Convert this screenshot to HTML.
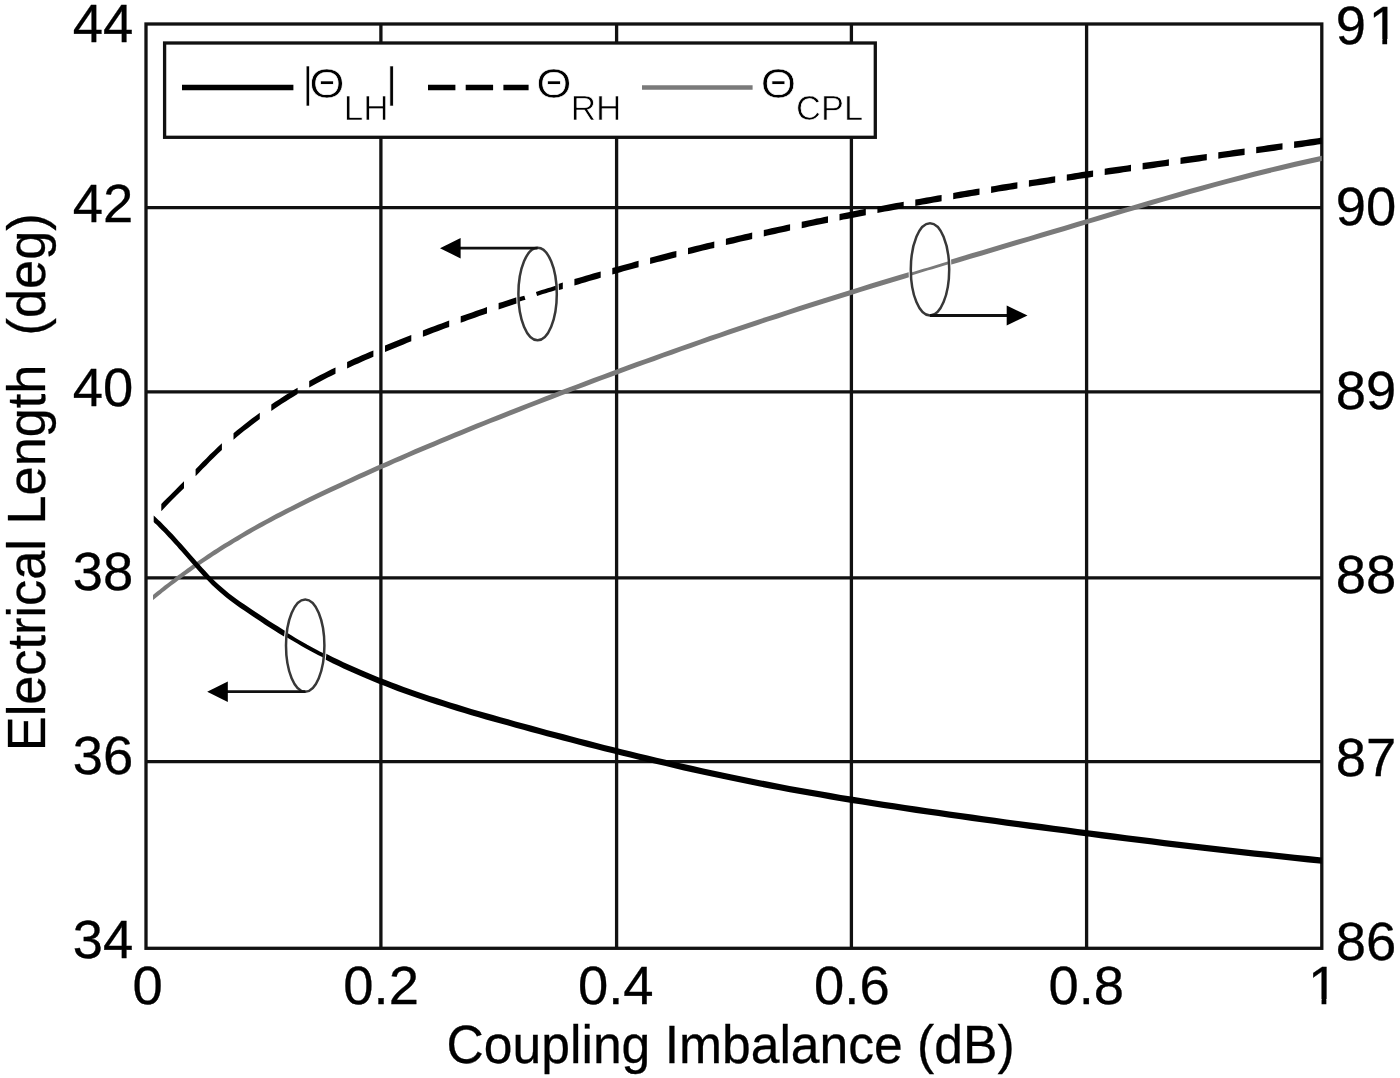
<!DOCTYPE html>
<html><head><meta charset="utf-8"><title>Electrical Length vs Coupling Imbalance</title>
<style>html,body{margin:0;padding:0;background:#fff}svg{display:block}</style></head>
<body><svg width="1400" height="1078" viewBox="0 0 1400 1078">
<rect x="0" y="0" width="1400" height="1078" fill="#fff"/>
<path d="M380.9,24.0V948.3M616.6,24.0V948.3M851.4,24.0V948.3M1086.6,24.0V948.3M146.0,207.6H1321.8M146.0,391.8H1321.8M146.0,577.8H1321.8M146.0,761.6H1321.8" stroke="#111" stroke-width="3.3" fill="none"/>
<rect x="146.0" y="24.0" width="1175.8" height="924.3" stroke="#111" stroke-width="3.3" fill="none"/>
<path d="M153.0,594.9 L154.1,594.0 L155.3,593.1 L156.5,592.1 L157.8,591.0 L159.3,589.9 L160.7,588.7 L162.3,587.4 L164.0,586.1 L165.7,584.8 L167.5,583.4 L169.4,581.9 L171.3,580.4 L173.4,578.9 L175.5,577.3 L177.7,575.6 L180.0,573.9 L182.3,572.2 L184.8,570.4 L187.3,568.6 L189.9,566.7 L192.6,564.8 L195.3,562.9 L198.2,560.9 L201.1,558.9 L204.1,556.9 L207.2,554.8 L210.3,552.8 L213.5,550.6 L216.9,548.5 L220.2,546.3 L223.7,544.1 L227.3,541.9 L230.9,539.7 L234.6,537.4 L238.4,535.2 L242.2,532.9 L246.2,530.6 L250.2,528.3 L254.3,525.9 L258.5,523.6 L262.8,521.3 L267.1,518.9 L271.5,516.5 L276.0,514.1 L280.6,511.7 L285.3,509.3 L290.0,506.9 L294.8,504.5 L299.7,502.1 L304.7,499.6 L309.7,497.1 L314.9,494.6 L320.1,492.1 L325.4,489.6 L330.7,487.1 L336.2,484.5 L341.7,482.0 L347.3,479.4 L353.0,476.8 L358.8,474.1 L364.6,471.5 L370.6,468.8 L376.6,466.1 L382.6,463.4 L388.8,460.7 L395.0,457.9 L401.4,455.2 L407.8,452.4 L414.2,449.6 L420.8,446.8 L427.4,444.0 L434.2,441.2 L441.0,438.3 L447.8,435.5 L454.8,432.6 L461.8,429.7 L468.9,426.8 L476.1,423.8 L483.4,420.9 L490.7,417.9 L498.2,415.0 L505.7,412.0 L513.3,409.0 L520.9,406.0 L528.7,402.9 L536.5,399.9 L544.4,396.8 L552.4,393.7 L560.5,390.6 L568.6,387.5 L576.8,384.4 L585.1,381.2 L593.5,378.1 L602.0,374.9 L610.5,371.7 L619.1,368.5 L627.8,365.3 L636.6,362.1 L645.5,358.9 L654.4,355.7 L663.4,352.4 L672.5,349.2 L681.7,345.9 L690.9,342.7 L700.3,339.4 L709.7,336.1 L719.2,332.9 L728.7,329.6 L738.4,326.3 L748.1,323.0 L757.9,319.7 L767.8,316.4 L777.8,313.2 L787.8,309.9 L797.9,306.6 L808.1,303.3 L818.4,300.0 L828.8,296.7 L839.2,293.5 L849.7,290.2 L860.3,286.9 L871.0,283.6 L881.8,280.3 L892.6,277.0 L903.5,273.7 L914.5,270.4 L925.6,267.0 L936.8,263.7 L948.0,260.4 L959.3,257.0 L970.7,253.6 L982.2,250.2 L993.7,246.8 L1005.3,243.3 L1017.0,239.8 L1028.8,236.4 L1040.7,232.8 L1052.6,229.3 L1064.7,225.7 L1076.8,222.0 L1089.0,218.4 L1101.2,214.7 L1113.6,211.1 L1126.0,207.4 L1138.5,203.7 L1151.1,200.0 L1163.7,196.4 L1176.5,192.7 L1189.3,189.1 L1202.2,185.5 L1215.1,181.9 L1228.2,178.4 L1241.3,175.0 L1254.5,171.6 L1267.8,168.2 L1281.2,165.0 L1294.7,161.8 L1308.2,158.7 L1321.8,155.7 L1321.8,160.9 L1308.2,163.9 L1294.7,167.0 L1281.2,170.2 L1267.8,173.4 L1254.5,176.8 L1241.3,180.2 L1228.2,183.6 L1215.1,187.1 L1202.2,190.7 L1189.3,194.3 L1176.5,197.9 L1163.7,201.6 L1151.1,205.2 L1138.5,208.9 L1126.0,212.6 L1113.6,216.3 L1101.2,219.9 L1089.0,223.6 L1076.8,227.2 L1064.7,230.9 L1052.6,234.5 L1040.7,238.0 L1028.8,241.6 L1017.0,245.0 L1005.3,248.5 L993.7,252.0 L982.2,255.4 L970.7,258.8 L959.3,262.2 L948.0,265.6 L936.8,268.9 L925.6,272.2 L914.5,275.6 L903.5,278.9 L892.6,282.2 L881.8,285.5 L871.0,288.8 L860.3,292.1 L849.7,295.4 L839.2,298.7 L828.8,301.9 L818.4,305.2 L808.1,308.5 L797.9,311.8 L787.8,315.1 L777.8,318.4 L767.8,321.6 L757.9,324.9 L748.1,328.2 L738.4,331.5 L728.7,334.8 L719.2,338.1 L709.7,341.3 L700.3,344.6 L690.9,347.9 L681.7,351.1 L672.5,354.4 L663.4,357.6 L654.4,360.9 L645.5,364.1 L636.6,367.3 L627.8,370.5 L619.1,373.7 L610.5,376.9 L602.0,380.1 L593.5,383.3 L585.1,386.4 L576.8,389.6 L568.6,392.7 L560.5,395.8 L552.4,398.9 L544.4,402.0 L536.5,405.1 L528.7,408.1 L520.9,411.2 L513.3,414.2 L505.7,417.2 L498.2,420.2 L490.7,423.1 L483.4,426.1 L476.1,429.0 L468.9,432.0 L461.8,434.9 L454.8,437.8 L447.8,440.7 L441.0,443.5 L434.2,446.4 L427.4,449.2 L420.8,452.0 L414.2,454.8 L407.8,457.6 L401.4,460.4 L395.0,463.1 L388.8,465.9 L382.6,468.6 L376.6,471.3 L370.6,474.0 L364.6,476.7 L358.8,479.3 L353.0,482.0 L347.3,484.6 L341.7,487.2 L336.2,489.7 L330.7,492.3 L325.4,494.8 L320.1,497.3 L314.9,499.8 L309.7,502.3 L304.7,504.8 L299.7,507.3 L294.8,509.7 L290.0,512.1 L285.3,514.5 L280.6,516.9 L276.0,519.3 L271.5,521.7 L267.1,524.1 L262.8,526.5 L258.5,528.8 L254.3,531.1 L250.2,533.5 L246.2,535.8 L242.2,538.1 L238.4,540.4 L234.6,542.6 L230.9,544.9 L227.3,547.1 L223.7,549.3 L220.2,551.5 L216.9,553.7 L213.5,555.8 L210.3,558.0 L207.2,560.0 L204.1,562.1 L201.1,564.1 L198.2,566.1 L195.3,568.1 L192.6,570.0 L189.9,571.9 L187.3,573.8 L184.8,575.6 L182.3,577.4 L180.0,579.1 L177.7,580.8 L175.5,582.5 L173.4,584.1 L171.3,585.6 L169.4,587.1 L167.5,588.6 L165.7,590.0 L164.0,591.3 L162.3,592.6 L160.7,593.9 L159.3,595.1 L157.8,596.2 L156.5,597.3 L155.3,598.3 L154.1,599.2 L153.0,600.1Z" fill="#7a7a7a"/>
<path d="M153.7,515.6 L154.8,516.6 L156.1,517.7 L157.4,518.9 L158.7,520.2 L160.2,521.6 L161.7,523.1 L163.3,524.7 L165.0,526.4 L166.8,528.2 L168.6,530.2 L170.6,532.2 L172.6,534.3 L174.6,536.6 L176.8,539.0 L179.0,541.4 L181.4,544.0 L183.8,546.7 L186.2,549.6 L188.8,552.5 L191.4,555.5 L194.1,558.6 L196.9,561.8 L199.8,565.0 L202.7,568.3 L205.8,571.6 L208.9,574.9 L212.0,578.2 L215.3,581.4 L218.6,584.6 L222.1,587.6 L225.6,590.6 L229.1,593.4 L232.8,596.2 L236.5,598.9 L240.3,601.7 L244.2,604.3 L248.2,607.0 L252.2,609.8 L256.4,612.5 L260.6,615.3 L264.8,618.1 L269.2,620.9 L273.6,623.7 L278.2,626.6 L282.8,629.4 L287.4,632.3 L292.2,635.1 L297.0,638.0 L301.9,640.8 L306.9,643.6 L312.0,646.3 L317.1,649.1 L322.4,651.8 L327.7,654.5 L333.0,657.2 L338.5,659.8 L344.0,662.4 L349.7,665.0 L355.4,667.5 L361.1,670.0 L367.0,672.5 L372.9,675.0 L378.9,677.4 L385.0,679.8 L391.2,682.2 L397.4,684.6 L403.8,686.9 L410.2,689.2 L416.6,691.5 L423.2,693.7 L429.8,695.9 L436.6,698.1 L443.4,700.3 L450.2,702.5 L457.2,704.6 L464.2,706.7 L471.3,708.9 L478.5,711.0 L485.8,713.1 L493.1,715.1 L500.6,717.2 L508.1,719.3 L515.6,721.4 L523.3,723.5 L531.0,725.6 L538.9,727.7 L546.8,729.9 L554.7,732.0 L562.8,734.1 L570.9,736.3 L579.1,738.4 L587.4,740.6 L595.8,742.7 L604.2,744.9 L612.8,747.0 L621.4,749.2 L630.0,751.3 L638.8,753.5 L647.6,755.6 L656.6,757.7 L665.6,759.8 L674.6,762.0 L683.8,764.1 L693.0,766.1 L702.3,768.2 L711.7,770.3 L721.2,772.3 L730.7,774.3 L740.4,776.3 L750.1,778.3 L759.8,780.2 L769.7,782.1 L779.6,784.0 L789.7,785.9 L799.8,787.7 L809.9,789.5 L820.2,791.3 L830.5,793.1 L840.9,794.9 L851.4,796.6 L862.0,798.3 L872.6,800.0 L883.4,801.7 L894.2,803.3 L905.1,805.0 L916.0,806.6 L927.1,808.2 L938.2,809.8 L949.4,811.4 L960.6,813.0 L972.0,814.6 L983.4,816.2 L994.9,817.8 L1006.5,819.4 L1018.2,821.0 L1029.9,822.6 L1041.8,824.1 L1053.7,825.7 L1065.7,827.3 L1077.7,828.9 L1089.9,830.5 L1102.1,832.1 L1114.4,833.6 L1126.7,835.2 L1139.2,836.8 L1151.7,838.3 L1164.3,839.9 L1177.0,841.4 L1189.8,842.9 L1202.6,844.4 L1215.6,845.9 L1228.6,847.4 L1241.7,848.9 L1254.8,850.4 L1268.1,851.8 L1281.4,853.3 L1294.8,854.7 L1308.2,856.1 L1321.8,857.5 L1321.8,863.8 L1308.2,862.4 L1294.8,861.0 L1281.4,859.6 L1268.1,858.1 L1254.8,856.7 L1241.7,855.2 L1228.6,853.7 L1215.6,852.2 L1202.6,850.7 L1189.8,849.2 L1177.0,847.7 L1164.3,846.2 L1151.7,844.6 L1139.2,843.1 L1126.7,841.5 L1114.4,839.9 L1102.1,838.4 L1089.9,836.8 L1077.7,835.2 L1065.7,833.6 L1053.7,832.0 L1041.8,830.4 L1029.9,828.9 L1018.2,827.3 L1006.5,825.7 L994.9,824.1 L983.4,822.5 L972.0,820.9 L960.6,819.3 L949.4,817.7 L938.2,816.1 L927.1,814.5 L916.0,812.9 L905.1,811.3 L894.2,809.6 L883.4,808.0 L872.6,806.3 L862.0,804.6 L851.4,802.9 L840.9,801.2 L830.5,799.4 L820.2,797.6 L809.9,795.8 L799.8,794.0 L789.7,792.2 L779.6,790.3 L769.7,788.4 L759.8,786.5 L750.1,784.6 L740.4,782.6 L730.7,780.6 L721.2,778.6 L711.7,776.6 L702.3,774.5 L693.0,772.4 L683.8,770.4 L674.6,768.3 L665.6,766.1 L656.6,764.0 L647.6,761.9 L638.8,759.8 L630.0,757.6 L621.4,755.5 L612.8,753.3 L604.2,751.2 L595.8,749.0 L587.4,746.9 L579.1,744.7 L570.9,742.6 L562.8,740.4 L554.7,738.3 L546.8,736.2 L538.9,734.0 L531.0,731.9 L523.3,729.8 L515.6,727.7 L508.1,725.6 L500.6,723.5 L493.1,721.4 L485.8,719.4 L478.5,717.3 L471.3,715.2 L464.2,713.0 L457.2,710.9 L450.2,708.8 L443.4,706.6 L436.6,704.4 L429.8,702.2 L423.2,700.0 L416.6,697.8 L410.2,695.5 L403.8,693.2 L397.4,690.9 L391.2,688.5 L385.0,686.1 L378.9,683.7 L372.9,681.3 L367.0,678.8 L361.1,676.3 L355.4,673.8 L349.7,671.3 L344.0,668.7 L338.5,666.1 L333.0,663.5 L327.7,660.8 L322.4,658.1 L317.1,655.4 L312.0,652.6 L306.9,649.9 L301.9,647.1 L297.0,644.3 L292.2,641.4 L287.4,638.6 L282.8,635.7 L278.2,632.9 L273.6,630.0 L269.2,627.2 L264.8,624.4 L260.6,621.6 L256.4,618.8 L252.2,616.1 L248.2,613.3 L244.2,610.6 L240.3,608.0 L236.5,605.2 L232.8,602.5 L229.1,599.7 L225.6,596.9 L222.1,593.9 L218.6,591.0 L215.3,588.0 L212.0,584.9 L208.9,581.8 L205.8,578.6 L202.7,575.4 L199.8,572.2 L196.9,569.0 L194.1,565.8 L191.4,562.8 L188.8,559.8 L186.2,556.8 L183.8,554.0 L181.4,551.3 L179.0,548.7 L176.8,546.1 L174.6,543.7 L172.6,541.4 L170.6,539.2 L168.6,537.2 L166.8,535.2 L165.0,533.3 L163.3,531.6 L161.7,529.9 L160.2,528.4 L158.7,526.9 L157.4,525.6 L156.1,524.3 L154.8,523.2 L153.7,522.1Z" fill="#000"/>
<path d="M161.3,504.1 L163.9,501.3 L166.7,498.4 L169.8,495.4 L173.0,492.2 L176.5,488.7 L180.1,485.1 L184.0,481.2 L184.0,488.2 L180.1,492.0 L176.5,495.6 L173.0,499.1 L169.8,502.3 L166.7,505.4 L163.9,508.4 L161.3,511.2ZM195.6,469.3 L199.0,465.7 L202.5,462.1 L206.2,458.4 L209.9,454.6 L213.8,450.9 L217.8,447.1 L221.9,443.3 L221.9,450.0 L217.8,453.8 L213.8,457.7 L209.9,461.6 L206.2,465.4 L202.5,469.1 L199.0,472.8 L195.6,476.3ZM233.5,433.3 L237.0,430.3 L240.6,427.4 L244.3,424.4 L248.1,421.5 L251.9,418.6 L255.8,415.7 L259.8,412.7 L259.8,419.1 L255.8,422.1 L251.9,425.0 L248.1,427.9 L244.3,430.8 L240.6,433.8 L237.0,436.7 L233.5,439.7ZM271.3,404.6 L274.9,402.1 L278.6,399.7 L282.3,397.2 L286.1,394.8 L289.9,392.4 L293.7,390.1 L297.6,387.7 L297.6,394.1 L293.7,396.5 L289.9,398.8 L286.1,401.2 L282.3,403.6 L278.6,406.1 L274.9,408.5 L271.3,411.0ZM309.2,381.1 L312.9,379.1 L316.5,377.1 L320.3,375.1 L324.0,373.2 L327.8,371.2 L331.6,369.3 L335.5,367.4 L335.5,373.8 L331.6,375.7 L327.8,377.6 L324.0,379.6 L320.3,381.5 L316.5,383.5 L312.9,385.5 L309.2,387.5ZM347.1,362.0 L350.8,360.3 L354.4,358.6 L358.2,357.0 L361.9,355.3 L365.7,353.7 L369.5,352.0 L373.4,350.4 L373.4,356.8 L369.5,358.4 L365.7,360.1 L361.9,361.7 L358.2,363.4 L354.4,365.0 L350.8,366.7 L347.1,368.4ZM385.0,345.5 L388.7,344.0 L392.4,342.5 L396.1,341.0 L399.8,339.5 L403.6,338.0 L407.4,336.4 L411.3,334.9 L411.3,341.3 L407.4,342.8 L403.6,344.4 L399.8,345.9 L396.1,347.4 L392.4,348.9 L388.7,350.4 L385.0,351.9ZM422.9,330.4 L426.5,329.0 L430.3,327.6 L434.0,326.2 L437.7,324.8 L441.5,323.4 L445.3,321.9 L449.2,320.5 L449.2,326.9 L445.3,328.3 L441.5,329.8 L437.7,331.2 L434.0,332.6 L430.3,334.0 L426.5,335.4 L422.9,336.8ZM460.7,316.3 L464.4,315.0 L468.1,313.7 L471.9,312.4 L475.6,311.0 L479.4,309.7 L483.2,308.4 L487.0,307.1 L487.0,313.5 L483.2,314.8 L479.4,316.1 L475.6,317.4 L471.9,318.8 L468.1,320.1 L464.4,321.4 L460.7,322.7ZM498.6,303.1 L502.3,301.9 L506.0,300.7 L509.8,299.4 L513.5,298.2 L517.3,296.9 L521.1,295.7 L524.9,294.5 L524.9,300.9 L521.1,302.1 L517.3,303.3 L513.5,304.6 L509.8,305.8 L506.0,307.1 L502.3,308.3 L498.6,309.5ZM536.5,290.7 L540.2,289.6 L543.9,288.4 L547.7,287.2 L551.4,286.1 L555.2,284.9 L559.0,283.7 L562.8,282.6 L562.8,289.0 L559.0,290.1 L555.2,291.3 L551.4,292.5 L547.7,293.6 L543.9,294.8 L540.2,296.0 L536.5,297.1ZM574.4,279.1 L578.1,278.0 L581.8,276.9 L585.6,275.8 L589.3,274.7 L593.1,273.6 L596.9,272.5 L600.7,271.4 L600.7,277.8 L596.9,278.9 L593.1,280.0 L589.3,281.1 L585.6,282.2 L581.8,283.3 L578.1,284.4 L574.4,285.5ZM612.3,268.1 L616.0,267.0 L619.7,266.0 L623.4,264.9 L627.2,263.9 L631.0,262.9 L634.8,261.8 L638.6,260.8 L638.6,267.2 L634.8,268.2 L631.0,269.3 L627.2,270.3 L623.4,271.3 L619.7,272.4 L616.0,273.4 L612.3,274.5ZM650.1,257.7 L653.9,256.7 L657.6,255.7 L661.3,254.8 L665.1,253.8 L668.9,252.8 L672.6,251.8 L676.4,250.9 L676.4,257.3 L672.6,258.2 L668.9,259.2 L665.1,260.2 L661.3,261.2 L657.6,262.1 L653.9,263.1 L650.1,264.1ZM688.0,247.9 L691.7,247.0 L695.5,246.1 L699.2,245.2 L703.0,244.2 L706.7,243.3 L710.5,242.4 L714.3,241.5 L714.3,247.9 L710.5,248.8 L706.7,249.7 L703.0,250.6 L699.2,251.6 L695.5,252.5 L691.7,253.4 L688.0,254.3ZM725.9,238.7 L729.6,237.8 L733.4,237.0 L737.1,236.1 L740.9,235.2 L744.6,234.3 L748.4,233.5 L752.2,232.6 L752.2,239.0 L748.4,239.9 L744.6,240.7 L740.9,241.6 L737.1,242.5 L733.4,243.4 L729.6,244.2 L725.9,245.1ZM763.8,230.0 L767.5,229.2 L771.2,228.3 L775.0,227.5 L778.7,226.7 L782.5,225.9 L786.3,225.1 L790.1,224.2 L790.1,230.6 L786.3,231.5 L782.5,232.3 L778.7,233.1 L775.0,233.9 L771.2,234.7 L767.5,235.6 L763.8,236.4ZM801.7,221.8 L805.4,221.0 L809.1,220.2 L812.9,219.4 L816.6,218.6 L820.4,217.9 L824.2,217.1 L828.0,216.3 L828.0,222.7 L824.2,223.5 L820.4,224.3 L816.6,225.0 L812.9,225.8 L809.1,226.6 L805.4,227.4 L801.7,228.2ZM839.5,214.0 L843.3,213.2 L847.0,212.5 L850.8,211.8 L854.5,211.0 L858.3,210.3 L862.1,209.5 L865.8,208.8 L865.8,215.2 L862.1,215.9 L858.3,216.7 L854.5,217.4 L850.8,218.2 L847.0,218.9 L843.3,219.6 L839.5,220.4ZM877.4,206.6 L881.1,205.9 L884.9,205.2 L888.6,204.5 L892.4,203.8 L896.2,203.1 L899.9,202.4 L903.7,201.7 L903.7,208.1 L899.9,208.8 L896.2,209.5 L892.4,210.2 L888.6,210.9 L884.9,211.6 L881.1,212.3 L877.4,213.0ZM915.3,199.6 L919.0,198.9 L922.8,198.2 L926.5,197.6 L930.3,196.9 L934.0,196.2 L937.8,195.5 L941.6,194.9 L941.6,201.3 L937.8,201.9 L934.0,202.6 L930.3,203.3 L926.5,204.0 L922.8,204.6 L919.0,205.3 L915.3,206.0ZM953.2,192.9 L956.9,192.2 L960.7,191.6 L964.4,190.9 L968.2,190.3 L971.9,189.7 L975.7,189.0 L979.5,188.4 L979.5,194.8 L975.7,195.4 L971.9,196.1 L968.2,196.7 L964.4,197.3 L960.7,198.0 L956.9,198.6 L953.2,199.3ZM991.1,186.5 L994.8,185.9 L998.5,185.2 L1002.3,184.6 L1006.0,184.0 L1009.8,183.4 L1013.6,182.8 L1017.4,182.2 L1017.4,188.6 L1013.6,189.2 L1009.8,189.8 L1006.0,190.4 L1002.3,191.0 L998.5,191.6 L994.8,192.3 L991.1,192.9ZM1028.9,180.3 L1032.7,179.7 L1036.4,179.2 L1040.2,178.6 L1043.9,178.0 L1047.7,177.4 L1051.5,176.8 L1055.2,176.2 L1055.2,182.6 L1051.5,183.2 L1047.7,183.8 L1043.9,184.4 L1040.2,185.0 L1036.4,185.6 L1032.7,186.1 L1028.9,186.7ZM1066.8,174.4 L1070.6,173.9 L1074.3,173.3 L1078.0,172.7 L1081.8,172.1 L1085.6,171.6 L1089.3,171.0 L1093.1,170.4 L1093.1,176.8 L1089.3,177.4 L1085.6,178.0 L1081.8,178.5 L1078.0,179.1 L1074.3,179.7 L1070.6,180.3 L1066.8,180.8ZM1104.7,168.7 L1108.4,168.1 L1112.2,167.6 L1115.9,167.0 L1119.7,166.5 L1123.4,165.9 L1127.2,165.4 L1131.0,164.8 L1131.0,171.2 L1127.2,171.8 L1123.4,172.3 L1119.7,172.9 L1115.9,173.4 L1112.2,174.0 L1108.4,174.5 L1104.7,175.1ZM1142.6,163.1 L1146.3,162.6 L1150.1,162.0 L1153.8,161.5 L1157.6,160.9 L1161.3,160.4 L1165.1,159.9 L1168.9,159.3 L1168.9,165.7 L1165.1,166.3 L1161.3,166.8 L1157.6,167.3 L1153.8,167.9 L1150.1,168.4 L1146.3,169.0 L1142.6,169.5ZM1180.5,157.7 L1184.2,157.1 L1187.9,156.6 L1191.7,156.1 L1195.4,155.5 L1199.2,155.0 L1203.0,154.4 L1206.8,153.9 L1206.8,160.3 L1203.0,160.8 L1199.2,161.4 L1195.4,161.9 L1191.7,162.5 L1187.9,163.0 L1184.2,163.5 L1180.5,164.1ZM1218.3,152.3 L1222.1,151.7 L1225.8,151.2 L1229.6,150.7 L1233.3,150.1 L1237.1,149.6 L1240.9,149.1 L1244.6,148.6 L1244.6,155.0 L1240.9,155.5 L1237.1,156.0 L1233.3,156.5 L1229.6,157.1 L1225.8,157.6 L1222.1,158.1 L1218.3,158.7ZM1256.2,146.9 L1260.0,146.4 L1263.7,145.9 L1267.5,145.3 L1271.2,144.8 L1275.0,144.3 L1278.7,143.7 L1282.5,143.2 L1282.5,149.6 L1278.7,150.1 L1275.0,150.7 L1271.2,151.2 L1267.5,151.7 L1263.7,152.3 L1260.0,152.8 L1256.2,153.3ZM1294.1,141.6 L1298.0,141.0 L1302.0,140.5 L1305.9,139.9 L1309.9,139.3 L1313.9,138.8 L1317.8,138.2 L1321.8,137.6 L1321.8,144.0 L1317.8,144.6 L1313.9,145.2 L1309.9,145.7 L1305.9,146.3 L1302.0,146.9 L1298.0,147.4 L1294.1,148.0Z" fill="#000"/>
<rect x="164.6" y="43" width="710.7" height="94.3" fill="#fff" stroke="#111" stroke-width="3.3"/>
<path d="M182,87.5H293.4" stroke="#000" stroke-width="5.5"/>
<path d="M428,87.5H455.4M465.7,87.5H493.1M503.4,87.5H528.6" stroke="#000" stroke-width="5.5"/>
<path d="M642,87.5H752.6" stroke="#7a7a7a" stroke-width="4.6"/>
<defs><clipPath id="ec0"><ellipse cx="305.2" cy="645.6" rx="19.2" ry="46.2"/></clipPath><clipPath id="ec1"><ellipse cx="537.6" cy="294" rx="19.2" ry="46.2"/></clipPath><clipPath id="ec2"><ellipse cx="930" cy="269.4" rx="19.2" ry="46.2"/></clipPath></defs>
<ellipse cx="305.2" cy="645.6" rx="19.2" ry="46.2" fill="#fff" stroke="#fff" stroke-width="4.5"/><path clip-path="url(#ec0)" d="M283.0,632.7 L286.8,635.0 L290.6,637.3 L294.5,639.6 L298.4,641.9 L302.4,644.2 L306.4,646.5 L310.5,648.7 L314.7,650.9 L318.9,653.2 L323.1,655.3 L327.4,657.5" stroke="#000" stroke-width="4.0" fill="none"/><ellipse cx="305.2" cy="645.6" rx="19.2" ry="46.2" fill="none" stroke="#383838" stroke-width="2.5"/><ellipse cx="537.6" cy="294" rx="19.2" ry="46.2" fill="#fff" stroke="#fff" stroke-width="4.5"/><path clip-path="url(#ec1)" d="M498.6,306.3 L501.5,305.4 L504.4,304.4 L507.3,303.4 L510.2,302.5 L513.1,301.5 L516.0,300.5 L519.0,299.6 L522.0,298.6 L524.9,297.7M536.5,293.9 L539.4,293.0 L542.3,292.1 L545.2,291.2 L548.1,290.3 L551.0,289.4 L553.9,288.5 L556.9,287.6 L559.8,286.7 L562.8,285.8" stroke="#000" stroke-width="4.2" fill="none"/><ellipse cx="537.6" cy="294" rx="19.2" ry="46.2" fill="none" stroke="#383838" stroke-width="2.5"/><ellipse cx="930" cy="269.4" rx="19.2" ry="46.2" fill="#fff" stroke="#fff" stroke-width="4.5"/><path clip-path="url(#ec2)" d="M907.8,275.0 L911.8,273.8 L915.8,272.6 L919.8,271.4 L923.8,270.2 L927.8,269.0 L931.9,267.8 L935.9,266.6 L940.0,265.3 L944.0,264.1 L948.1,262.9 L952.2,261.7" stroke="#7a7a7a" stroke-width="2.8" fill="none"/><ellipse cx="930" cy="269.4" rx="19.2" ry="46.2" fill="none" stroke="#383838" stroke-width="2.5"/>
<g stroke="#111" stroke-width="2.8" fill="none"><path d="M305.4,691.7H226"/><path d="M537.6,248.2H458"/><path d="M930,315.5H1008"/></g>
<g fill="#000"><path d="M207.2,691.7L227.8,681.5V701.9Z"/><path d="M440,248.2L460.6,238V258.4Z"/><path d="M1027.5,315.5L1006.7,305.5V325.5Z"/></g>
<g font-family="'Liberation Sans', sans-serif" fill="#000" stroke="#000" stroke-width="0.3"><text transform="translate(133.3,41.5) scale(1.0,1)" font-size="54.4" text-anchor="end">44</text><text transform="translate(133.3,222.3) scale(1.0,1)" font-size="54.4" text-anchor="end">42</text><text transform="translate(133.3,406.2) scale(1.0,1)" font-size="54.4" text-anchor="end">40</text><text transform="translate(133.3,590.1) scale(1.0,1)" font-size="54.4" text-anchor="end">38</text><text transform="translate(133.3,774.0) scale(1.0,1)" font-size="54.4" text-anchor="end">36</text><text transform="translate(133.3,957.9) scale(1.0,1)" font-size="54.4" text-anchor="end">34</text><text transform="translate(1335.8,44.2) scale(1.0,1)" font-size="54.4" text-anchor="start">9<tspan dx="2.6">1</tspan></text><text transform="translate(1335.8,224.9) scale(1.0,1)" font-size="54.4" text-anchor="start">90</text><text transform="translate(1335.8,408.75) scale(1.0,1)" font-size="54.4" text-anchor="start">89</text><text transform="translate(1335.8,592.6) scale(1.0,1)" font-size="54.4" text-anchor="start">88</text><text transform="translate(1335.8,776.45) scale(1.0,1)" font-size="54.4" text-anchor="start">87</text><text transform="translate(1335.8,960.3) scale(1.0,1)" font-size="54.4" text-anchor="start">86</text><text transform="translate(147.7,1003.7) scale(1.0,1)" font-size="54.4" text-anchor="middle">0</text><text transform="translate(381.1,1003.7) scale(1.0,1)" font-size="54.4" text-anchor="middle">0.2</text><text transform="translate(615.7,1003.7) scale(1.0,1)" font-size="54.4" text-anchor="middle">0.4</text><text transform="translate(851.9,1003.7) scale(1.0,1)" font-size="54.4" text-anchor="middle">0.6</text><text transform="translate(1086.2,1003.7) scale(1.0,1)" font-size="54.4" text-anchor="middle">0.8</text><text transform="translate(1323,1003.7) scale(1.0,1)" font-size="54.4" text-anchor="middle">1</text><text transform="translate(730.6,1062.6) scale(0.956,1)" font-size="54" text-anchor="middle">Coupling Imbalance (dB)</text><text transform="translate(44.7,482.3) rotate(-90) scale(0.960,1)" font-size="54.5" text-anchor="middle" xml:space="preserve">Electrical Length  (deg)</text></g>
<g font-family="'Liberation Sans', sans-serif" fill="#000" stroke="#fff" stroke-width="0.7"><text transform="translate(307.9,97.0) scale(1.0,1)" font-size="43" text-anchor="middle">|</text><text transform="translate(391.6,97.0) scale(1.0,1)" font-size="43" text-anchor="middle">|</text><text transform="translate(326.9,97.7) scale(1.05,1)" font-size="43.3" text-anchor="middle">Θ</text><text transform="translate(366.1,120.1) scale(0.99,1)" font-size="35.5" text-anchor="middle">LH</text><text transform="translate(554,97.7) scale(1.05,1)" font-size="43.3" text-anchor="middle">Θ</text><text transform="translate(596,120.1) scale(0.99,1)" font-size="35.5" text-anchor="middle">RH</text><text transform="translate(778.5,97.7) scale(1.05,1)" font-size="43.3" text-anchor="middle">Θ</text><text transform="translate(829.6,120.4) scale(0.97,1)" font-size="35.5" text-anchor="middle">CPL</text></g>
<g fill="#fff"><rect x="1371.80" y="39.00" width="10.54" height="7.00"/><rect x="1387.14" y="39.00" width="10.11" height="7.00"/><rect x="1311.02" y="999.00" width="10.54" height="6.00"/><rect x="1326.36" y="999.00" width="10.11" height="6.00"/></g>
</svg></body></html>
